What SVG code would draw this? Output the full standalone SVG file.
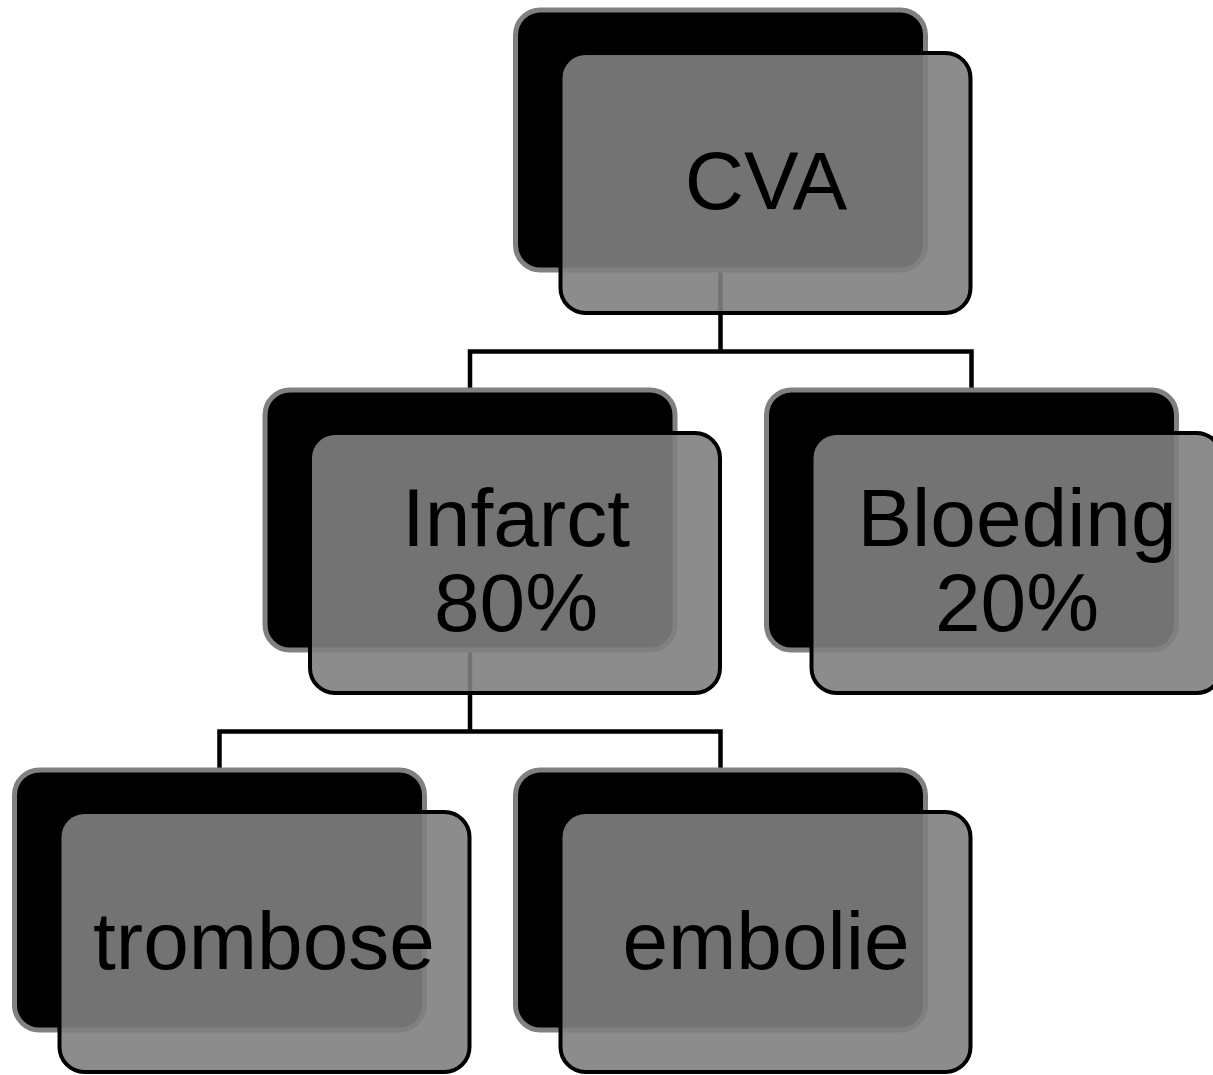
<svg xmlns="http://www.w3.org/2000/svg" width="1213" height="1075" viewBox="0 0 1213 1075">
<style>
.back{fill:#000;stroke:#808080;stroke-width:5}
.front{fill:#808080;fill-opacity:0.9;stroke:#000;stroke-width:4}
.conn{fill:none;stroke:#000;stroke-width:4.5;stroke-linejoin:miter}
.lbl{font-family:"Liberation Sans",Arial,sans-serif;font-size:82px;fill:#000;text-anchor:middle}
</style>
<rect width="1213" height="1075" fill="#fff"/>
<g id="connectors">
<path class="conn" d="M720.5 270 V351.5 M470 390 V351.5 H971.5 V390"/>
<path class="conn" d="M470 650 V731.5 M219.5 770 V731.5 H720.5 V770"/>
</g>
<g id="node-cva">
<rect class="back" x="515.5" y="10" width="410" height="260" rx="25"/>
<rect class="front" x="560.5" y="53" width="410" height="260" rx="25"/>
<text class="lbl" x="766" y="209">CVA</text>
</g>
<g id="node-infarct">
<rect class="back" x="265" y="390" width="410" height="260" rx="25"/>
<rect class="front" x="310" y="433" width="410" height="260" rx="25"/>
<text class="lbl" x="516" y="546">Infarct</text>
<text class="lbl" x="516" y="631">80%</text>
</g>
<g id="node-bloeding">
<rect class="back" x="766.5" y="390" width="410" height="260" rx="25"/>
<rect class="front" x="811.5" y="433" width="410" height="260" rx="25"/>
<text class="lbl" x="1017" y="546">Bloeding</text>
<text class="lbl" x="1017" y="631">20%</text>
</g>
<g id="node-trombose">
<rect class="back" x="14.5" y="770" width="410" height="260" rx="25"/>
<rect class="front" x="59.5" y="812" width="410" height="260" rx="25"/>
<text class="lbl" x="264" y="969">trombose</text>
</g>
<g id="node-embolie">
<rect class="back" x="515.5" y="770" width="410" height="260" rx="25"/>
<rect class="front" x="560.5" y="812" width="410" height="260" rx="25"/>
<text class="lbl" x="766" y="969">embolie</text>
</g>
</svg>
